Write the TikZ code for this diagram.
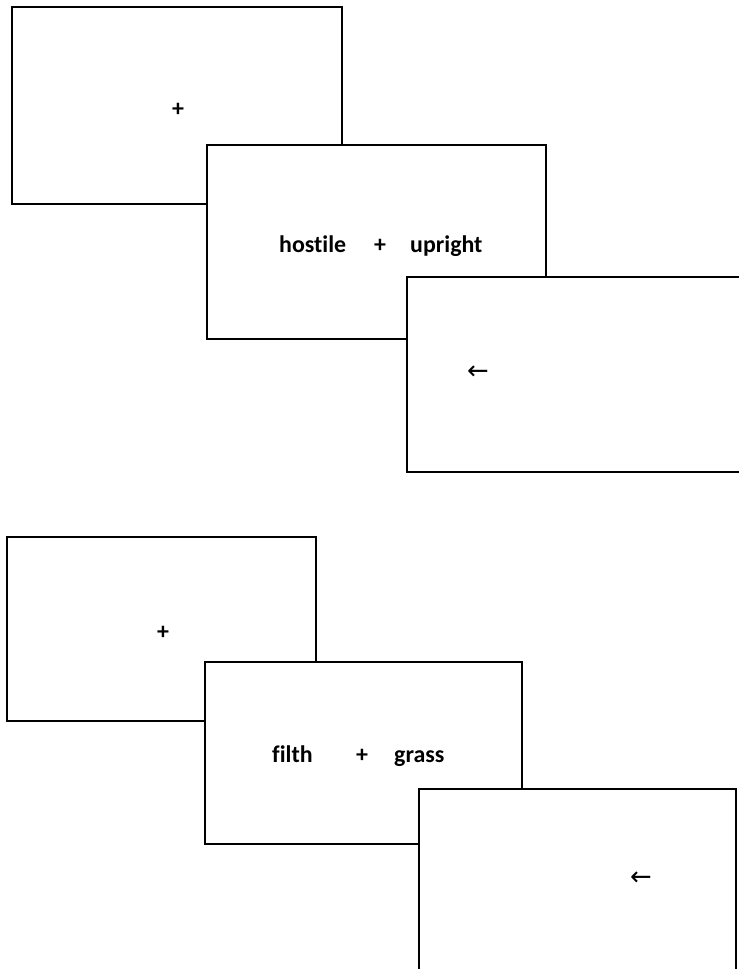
\documentclass[tikz,border=0pt]{standalone}
\usepackage{fontspec}
\setmainfont[Ligatures=NoCommon]{Carlito}
\newfontfamily\arrowfont{DejaVu Sans}
\begin{document}
\begin{tikzpicture}[x=1bp,y=-1bp,
  screen/.style={draw=black,fill=white,line width=2.5bp},
  word/.style={font=\fontsize{24}{28}\selectfont\bfseries,inner sep=0pt},
  cue/.style={font=\arrowfont\fontsize{26}{30}\selectfont,inner sep=0pt}]
\useasboundingbox (0,0) rectangle (739,969);
\clip (0,0) rectangle (739,969);

% first trial: fixation, word pair, probe
\draw[screen] (12,7) rectangle (342,204);
\node[word,anchor=base] (fixA) at (178,116) {+};
\draw[screen] (207,145) rectangle (546,339);
\node[word,anchor=base west] (leftA) at (279,252) {hostile};
\node[word,anchor=base] (plusA) at (380,252) {+};
\node[word,anchor=base west] (rightA) at (410,252) {upright};
\draw[screen] (407,277) rectangle (760,472);
\node[cue] (probeA) at (478,373) {←};

% second trial: fixation, word pair, probe
\draw[screen] (7,537) rectangle (316,721);
\node[word,anchor=base] (fixB) at (163,639) {+};
\draw[screen] (205,662) rectangle (522,844);
\node[word,anchor=base west] (leftB) at (272,762) {filth};
\node[word,anchor=base] (plusB) at (362,762) {+};
\node[word,anchor=base west] (rightB) at (394,762) {grass};
\draw[screen] (419,789) rectangle (736,1000);
\node[cue] (probeB) at (641,879) {←};
\end{tikzpicture}
\end{document}
